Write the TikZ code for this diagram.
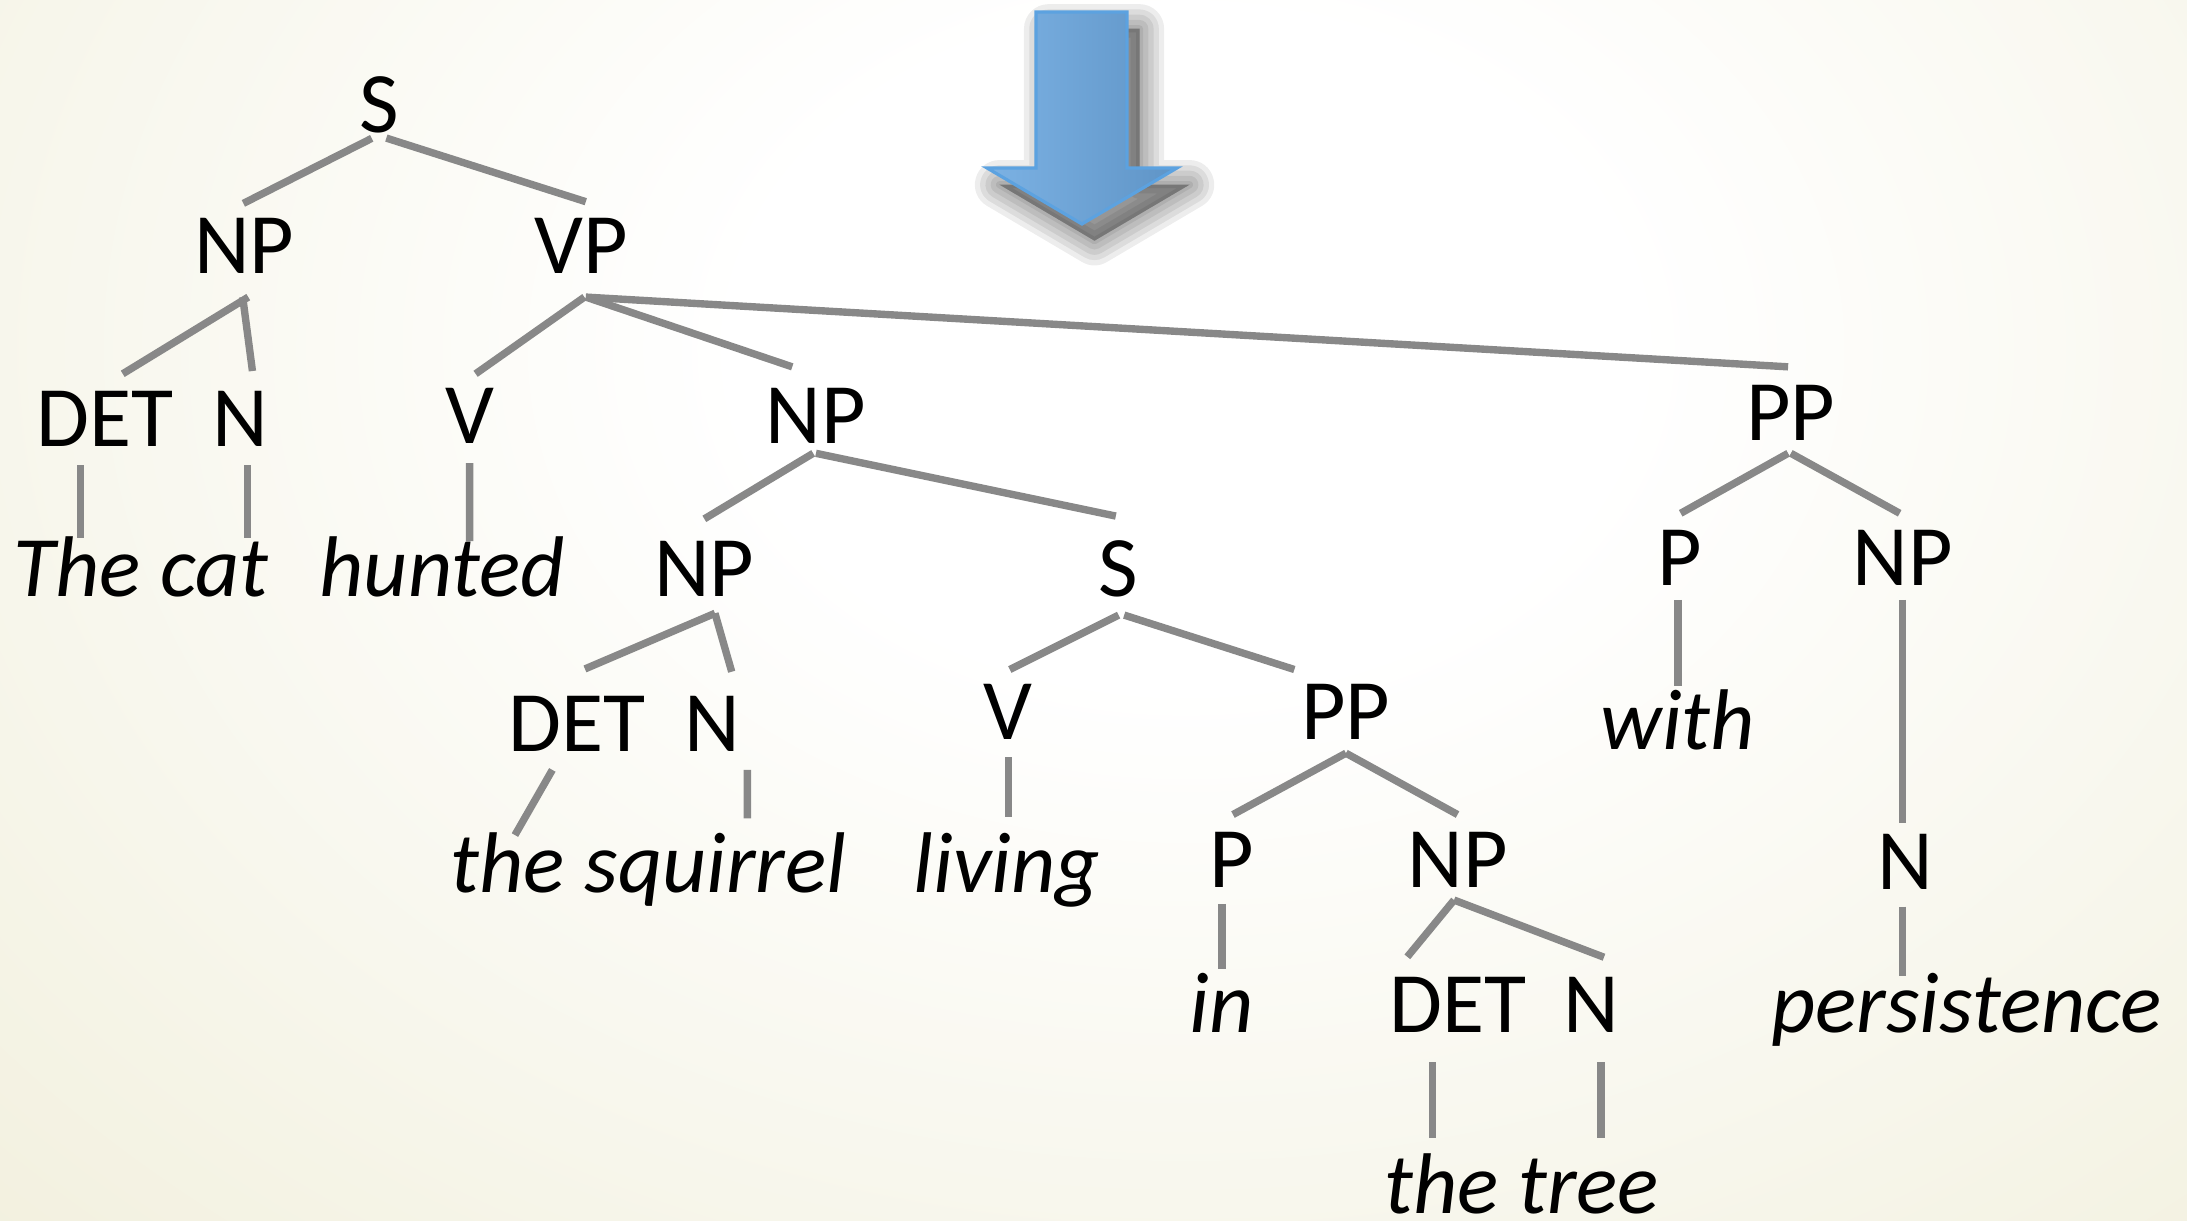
\documentclass[tikz,border=0pt]{standalone}
\usepackage{fontspec}
\setmainfont{Carlito}
\usetikzlibrary{calc}
\definecolor{bgbeige}{RGB}{233,230,200}
\definecolor{edgegray}{RGB}{136,136,136}
\definecolor{arrowlight}{RGB}{124,178,228}
\definecolor{arrowdark}{RGB}{95,148,198}
\definecolor{arrowrim}{RGB}{92,162,224}
% soft glow behind the tree
\pgfdeclareradialshading{bgglow}{\pgfpoint{0bp}{0bp}}{color(0bp)=(white); color(8bp)=(white); color(46bp)=(bgbeige); color(50bp)=(bgbeige)}

\begin{document}
\begin{tikzpicture}[x=0.013948cm, y=-0.013948cm,
  lab/.style={anchor=base, inner sep=0pt, font=\fontsize{24.5}{29}\selectfont},
  word/.style={lab, font=\fontsize{24.5}{29}\selectfont\itshape},
  edge/.style={draw=edgegray, line width=2.1pt, line cap=butt}]

\useasboundingbox (0,0) rectangle (1568,875);

% background
\begin{scope}
  \clip (0,0) rectangle (1568,875);
  \shade[shading=bgglow] (-150,-500) rectangle (1850,1000);
\end{scope}

% down arrow with its soft shadow
\begin{scope}[shift={(9,12)}]
  \foreach \w in {14,11,8,5,2} {
    \draw[line width=\w pt, black, opacity=0.07, line join=round, fill=black]
      (742.8,8.6) -- (808,8.6) -- (808,120.4) -- (843.9,120.4) -- (775.7,160.6)
      -- (707.6,120.4) -- (742.8,120.4) -- cycle;
  }
\end{scope}
\draw[arrowrim, line width=0.9pt, line join=miter, left color=arrowlight, right color=arrowdark]
  (742.8,8.6) -- (808,8.6) -- (808,120.4) -- (843.9,120.4) -- (775.7,160.6)
  -- (707.6,120.4) -- (742.8,120.4) -- cycle;

% categories
\node[lab] (s1)   at (272,95)    {S};
\node[lab] (np1)  at (175,196)   {NP};
\node[lab] (vp)   at (417,196)   {VP};
\node[lab] (det1) at (75,320)    {DET};
\node[lab] (n1)   at (172,320)   {N};
\node[lab] (v1)   at (337,318)   {V};
\node[lab] (np2)  at (585,318)   {NP};
\node[lab] (pp1)  at (1284,316)  {PP};
\node[lab] (np3)  at (505,428)   {NP};
\node[lab] (s2)   at (802,428)   {S};
\node[lab] (p1)   at (1204,420)  {P};
\node[lab] (np5)  at (1364,420)  {NP};
\node[lab] (det2) at (413.7,539) {DET};
\node[lab] (n2)   at (510.7,539) {N};
\node[lab] (v2)   at (723,530)   {V};
\node[lab] (pp2)  at (965,530)   {PP};
\node[lab] (p2)   at (883,636)   {P};
\node[lab] (np4)  at (1045,636)  {NP};
\node[lab] (n5)   at (1366,638)  {N};
\node[lab] (det3) at (1045,740)  {DET};
\node[lab] (n3)   at (1141,740)  {N};

% words
\node[word] (w1) at (101,428)  {The cat};
\node[word] (w2) at (317,428)  {hunted};
\node[word] (w3) at (1203,537) {with};
\node[word] (w4) at (465,640)  {the squirrel};
\node[word] (w5) at (722,640)  {living};
\node[word] (w6) at (876,740)  {in};
\node[word] (w7) at (1410,740) {persistence};
\node[word] (w8) at (1091,870) {the tree};

% branches
\draw[edge] ($(s1.base)+(-5.5,4.2)$) -- ($(np1.base)+(-0.5,-50.2)$);
\draw[edge] ($(s1.base)+(5,4)$) -- ($(vp.base)+(3,-51.4)$);
\draw[edge] ($(np1.base)+(3,17)$) -- ($(det1.base)+(13,-52)$);
\draw[edge] ($(np1.base)+(-1,17)$) -- ($(n1.base)+(9,-54)$);
\draw[edge] ($(vp.base)+(2,17)$) -- ($(v1.base)+(4,-50)$);
\draw[edge] ($(vp.base)+(3,17)$) -- ($(np2.base)+(-17,-55)$);
\draw[edge] ($(vp.base)+(3,17)$) -- ($(pp1.base)+(-2,-53)$);
\draw[edge] ($(det1.base)+(-17.4,13.7)$) -- ($(w1.base)+(-43.4,-42)$);
\draw[edge] ($(n1.base)+(5.6,13.7)$) -- ($(w1.base)+(76.6,-42)$);
\draw[edge] ($(v1.base)+(-0.3,14)$) -- ($(w2.base)+(19.7,-40)$);
\draw[edge] ($(np2.base)+(-2,7)$) -- ($(np3.base)+(0,-56)$);
\draw[edge] ($(np2.base)+(0,7)$) -- ($(s2.base)+(-2,-58)$);
\draw[edge] ($(pp1.base)+(-2,9)$) -- ($(p1.base)+(1,-52)$);
\draw[edge] ($(pp1.base)+(0,9)$) -- ($(np5.base)+(-2,-52)$);
\draw[edge] ($(np3.base)+(7.6,11.7)$) -- ($(det2.base)+(5.7,-59.4)$);
\draw[edge] ($(np3.base)+(7.6,11.7)$) -- ($(n2.base)+(13.9,-57.4)$);
\draw[edge] ($(s2.base)+(0,13)$) -- ($(v2.base)+(1,-50)$);
\draw[edge] ($(s2.base)+(4,13)$) -- ($(pp2.base)+(-37,-50)$);
\draw[edge] ($(p1.base)+(-1,10)$) -- ($(w3.base)+(0,-45)$);
\draw[edge] ($(np5.base)+(0,10)$) -- ($(n5.base)+(-2,-48)$);
\draw[edge] ($(det2.base)+(-17.7,13)$) -- ($(w4.base)+(-95.8,-41.3)$);
\draw[edge] ($(n2.base)+(25.1,13)$) -- ($(w4.base)+(70.8,-53.3)$);
\draw[edge] ($(v2.base)+(0,13)$) -- ($(w5.base)+(1,-54)$);
\draw[edge] ($(pp2.base)+(0,10)$) -- ($(p2.base)+(1,-52)$);
\draw[edge] ($(pp2.base)+(0,10)$) -- ($(np4.base)+(0,-52)$);
\draw[edge] ($(n5.base)+(-2,12)$) -- ($(w7.base)+(-46,-40)$);
\draw[edge] ($(p2.base)+(-7,12)$) -- ($(w6.base)+(0,-45)$);
\draw[edge] ($(np4.base)+(-2.5,9.3)$) -- ($(det3.base)+(-36,-54)$);
\draw[edge] ($(np4.base)+(-2.5,9.3)$) -- ($(n3.base)+(9,-53.7)$);
\draw[edge] ($(det3.base)+(-17.8,21.6)$) -- ($(w8.base)+(-63.8,-54)$);
\draw[edge] ($(n3.base)+(6.8,21.6)$) -- ($(w8.base)+(56.8,-54)$);

\end{tikzpicture}
\end{document}
